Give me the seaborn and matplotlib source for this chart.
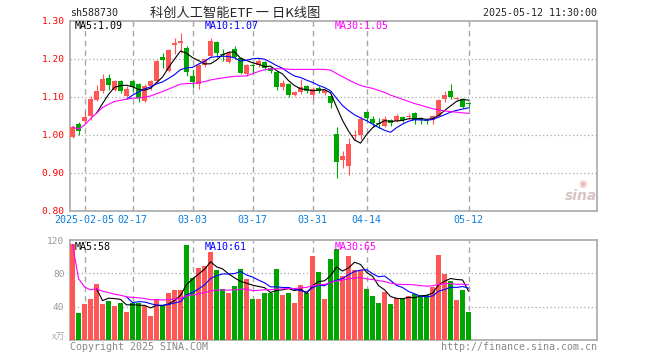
import numpy as np
import pandas as pd
import matplotlib
matplotlib.use('Agg')
import matplotlib.pyplot as plt
import seaborn as sns

# trading days shown on the chart
dates = ['2025-01-24', '2025-01-27',
         '2025-02-05', '2025-02-06', '2025-02-07', '2025-02-10', '2025-02-11', '2025-02-12',
         '2025-02-13', '2025-02-14', '2025-02-17', '2025-02-18', '2025-02-19', '2025-02-20',
         '2025-02-21', '2025-02-24', '2025-02-25', '2025-02-26', '2025-02-27', '2025-02-28',
         '2025-03-03', '2025-03-04', '2025-03-05', '2025-03-06', '2025-03-07', '2025-03-10',
         '2025-03-11', '2025-03-12', '2025-03-13', '2025-03-14', '2025-03-17', '2025-03-18',
         '2025-03-19', '2025-03-20', '2025-03-21', '2025-03-24', '2025-03-25', '2025-03-26',
         '2025-03-27', '2025-03-28', '2025-03-31',
         '2025-04-01', '2025-04-02', '2025-04-03', '2025-04-07', '2025-04-08', '2025-04-09',
         '2025-04-10', '2025-04-11', '2025-04-14', '2025-04-15', '2025-04-16', '2025-04-17',
         '2025-04-18', '2025-04-21', '2025-04-22', '2025-04-23', '2025-04-24', '2025-04-25',
         '2025-04-28', '2025-04-29', '2025-04-30',
         '2025-05-06', '2025-05-07', '2025-05-08', '2025-05-09', '2025-05-12']

open_ = [0.995, 1.030, 1.037, 1.050, 1.093, 1.117, 1.149, 1.118, 1.143, 1.103,
         1.141, 1.133, 1.089, 1.128, 1.141, 1.205, 1.168, 1.236, 1.241, 1.229,
         1.156, 1.135, 1.183, 1.209, 1.246, 1.213, 1.193, 1.227, 1.203, 1.160,
         1.183, 1.184, 1.191, 1.177, 1.166, 1.127, 1.135, 1.104, 1.112, 1.128,
         1.104, 1.125, 1.110, 1.103, 1.003, 0.935, 0.918, 0.998, 1.001, 1.060,
         1.043, 1.032, 1.025, 1.040, 1.036, 1.047, 1.048, 1.058, 1.045, 1.040,
         1.039, 1.049, 1.095, 1.117, 1.095, 1.095, 1.082]
high = [1.027, 1.033, 1.063, 1.102, 1.132, 1.161, 1.161, 1.145, 1.145, 1.130,
        1.146, 1.137, 1.133, 1.145, 1.198, 1.216, 1.225, 1.254, 1.268, 1.235,
        1.171, 1.187, 1.200, 1.254, 1.247, 1.226, 1.222, 1.233, 1.205, 1.187,
        1.187, 1.200, 1.195, 1.180, 1.168, 1.146, 1.137, 1.115, 1.147, 1.132,
        1.126, 1.130, 1.120, 1.106, 1.020, 0.957, 0.992, 1.012, 1.051, 1.062,
        1.050, 1.045, 1.050, 1.042, 1.055, 1.050, 1.058, 1.060, 1.047, 1.042,
        1.052, 1.094, 1.115, 1.133, 1.101, 1.098, 1.085]
low = [0.992, 1.001, 1.032, 1.040, 1.090, 1.110, 1.119, 1.115, 1.110, 1.100,
       1.115, 1.087, 1.086, 1.118, 1.138, 1.176, 1.165, 1.212, 1.216, 1.155,
       1.125, 1.121, 1.178, 1.206, 1.205, 1.195, 1.190, 1.200, 1.160, 1.155,
       1.163, 1.180, 1.172, 1.163, 1.118, 1.118, 1.100, 1.102, 1.108, 1.110,
       1.095, 1.110, 1.106, 1.071, 0.887, 0.913, 0.896, 0.988, 0.990, 1.036,
       1.022, 1.018, 1.020, 1.025, 1.033, 1.035, 1.042, 1.030, 1.030, 1.028,
       1.028, 1.047, 1.088, 1.095, 1.092, 1.070, 1.072]
close = [1.021, 1.010, 1.047, 1.094, 1.115, 1.147, 1.131, 1.141, 1.116, 1.120,
         1.126, 1.097, 1.130, 1.141, 1.196, 1.198, 1.223, 1.242, 1.247, 1.166,
         1.140, 1.184, 1.199, 1.248, 1.215, 1.210, 1.215, 1.206, 1.164, 1.185,
         1.181, 1.194, 1.177, 1.168, 1.127, 1.137, 1.106, 1.112, 1.126, 1.116,
         1.122, 1.115, 1.118, 1.084, 0.930, 0.944, 0.975, 1.001, 1.043, 1.044,
         1.032, 1.028, 1.042, 1.032, 1.051, 1.039, 1.050, 1.040, 1.039, 1.037,
         1.049, 1.091, 1.106, 1.100, 1.097, 1.074, 1.081]
# volume in 万
volume = [114.7, 32.7, 43.6, 49.7, 66.7, 43.6, 47.3, 41.2, 44.8, 33.9,
          44.4, 44.4, 40.4, 29.1, 49.7, 41.6, 56.2, 60.2, 60.6, 114.0,
          74.3, 86.5, 88.9, 105.9, 83.6, 61.8, 57.0, 64.6, 84.8, 72.7,
          49.7, 49.7, 57.0, 56.2, 84.8, 53.7, 57.0, 44.8, 66.3, 57.0,
          100.6, 81.6, 49.7, 97.0, 109.0, 76.4, 100.6, 83.6, 83.6, 61.8,
          52.5, 44.8, 58.2, 43.6, 50.5, 50.5, 53.0, 55.8, 54.5, 54.5,
          63.2, 101.8, 78.8, 70.7, 48.5, 60.6, 34.1]

tick_dates = ['2025-02-05', '2025-02-17', '2025-03-03', '2025-03-17',
              '2025-03-31', '2025-04-14', '2025-05-12']
tick_labels = ['2025-02-05', '02-17', '03-03', '03-17', '03-31', '04-14', '05-12']
price_ticks = [0.80, 0.90, 1.00, 1.10, 1.20, 1.30]
vol_ticks = [40, 80, 120]

title = '科创人工智能ETF 一 日K线图'
code = 'sh588730'
timestamp = '2025-05-12 11:30:00'
price_ma_labels = ['MA5:1.09', 'MA10:1.07', 'MA30:1.05']
vol_ma_labels = ['MA5:58', 'MA10:61', 'MA30:65']

RED = '#ff5656'
GREEN = '#00a600'
GRID = '#a8a8a8'
MA_COLORS = ['black', '#0000ff', '#ff00ff']

df = pd.DataFrame({'date': dates, 'open': open_, 'high': high, 'low': low,
                   'close': close, 'volume': volume})
df['i'] = np.arange(len(df))
up = df['close'] >= df['open']
colors = np.where(up, RED, GREEN)

df['ma5'] = df['close'].rolling(5).mean()
df['ma10'] = df['close'].rolling(10).mean()
df['ma30'] = df['close'].rolling(30, min_periods=1).mean()
df['vma5'] = df['volume'].rolling(5).mean()
df['vma10'] = df['volume'].rolling(10).mean()
df['vma30'] = df['volume'].rolling(30, min_periods=1).mean()

sns.set_style('white')
plt.rcParams['font.family'] = ['DejaVu Sans Mono', 'Noto Sans CJK SC']

W, H = 660, 360
fig = plt.figure(figsize=(W / 100, H / 100), dpi=100)


def box(l, t, r, b):
    return [l / W, 1 - b / H, (r - l) / W, (b - t) / H]


def ftext(x, y, s, **kw):
    fig.text(x / W, 1 - y / H, s, **kw)


ax = fig.add_axes(box(70, 21, 597, 211))
axv = fig.add_axes(box(70, 240, 597, 340))

tick_idx = [dates.index(d) for d in tick_dates]

# candles
body_lo = np.minimum(df['open'], df['close'])
body_h = np.maximum((df['close'] - df['open']).abs(), 0.0028)
ax.vlines(df['i'], df['low'], df['high'], colors=colors, lw=0.8, zorder=3)
ax.bar(df['i'], body_h, bottom=body_lo, width=0.8, color=colors, linewidth=0, zorder=3)

for col, c in zip(['ma5', 'ma10', 'ma30'], MA_COLORS):
    sns.lineplot(data=df, x='i', y=col, ax=ax, color=c, lw=0.8, zorder=4)

# volume
axv.bar(df['i'], df['volume'], width=0.8, color=colors, linewidth=0, zorder=3)
for col, c in zip(['vma5', 'vma10', 'vma30'], MA_COLORS):
    sns.lineplot(data=df, x='i', y=col, ax=axv, color=c, lw=0.8, zorder=4)

for a in (ax, axv):
    a.set_xlim(-0.42, 87.4)
    a.set_xlabel('')
    a.set_ylabel('')
    for s in a.spines.values():
        s.set_color(GRID)
        s.set_linewidth(1.2)
    for t in tick_idx:
        a.axvline(t, color=GRID, lw=1, ls=(0, (4, 3)), zorder=1)

ax.set_ylim(0.80, 1.30)
for p in price_ticks[1:-1]:
    ax.axhline(p, color=GRID, lw=0.9, ls=(0, (1, 2)), zorder=1)
ax.set_yticks(price_ticks)
ax.set_yticklabels(['%.2f' % p for p in price_ticks])
ax.set_xticks(tick_idx)
ax.set_xticklabels(tick_labels)
ax.tick_params(axis='y', length=0, pad=4, labelsize=6.8, labelcolor='red')
ax.tick_params(axis='x', length=0, pad=3, labelsize=7.2, labelcolor='#0a7ee0')

axv.set_ylim(0, 120)
for v in vol_ticks[:-1]:
    axv.axhline(v, color=GRID, lw=0.9, ls=(0, (1, 2)), zorder=1)
axv.set_yticks(vol_ticks)
axv.set_xticks([])
axv.tick_params(axis='y', length=0, pad=4, labelsize=6.8, labelcolor='#999999')

# legends of moving averages
for lbl, c, x in zip(price_ma_labels, MA_COLORS, [75, 205, 335]):
    ftext(x, 26, lbl, color=c, fontsize=7.2, va='center')
for lbl, c, x in zip(vol_ma_labels, MA_COLORS, [75, 205, 335]):
    ftext(x, 246.5, lbl, color=c, fontsize=7.2, va='center')

ftext(70, 13, code, fontsize=7.2, va='center')
ftext(150, 13, title, fontsize=9.5, va='center', family=['Noto Sans CJK SC', 'DejaVu Sans'])
ftext(597, 13, timestamp, fontsize=7.2, va='center', ha='right')
ftext(65, 337, 'x万', fontsize=6.5, va='center', ha='right', color='#aaaaaa',
      family=['Noto Sans CJK SC', 'DejaVu Sans'])
ftext(70, 346.5, 'Copyright 2025 SINA.COM', fontsize=7.2, va='center', color='#888888')
ftext(597, 346.5, 'http://finance.sina.com.cn', fontsize=7.2, va='center', ha='right',
      color='#888888')
ftext(597, 196, 'sina', fontsize=10, va='center', ha='right', color='#d8c4c4',
      family='DejaVu Sans', style='italic', weight='bold')
ftext(583, 184, '◉', fontsize=7, va='center', ha='center', color='#f0b4b4',
      family='DejaVu Sans')

fig.savefig('out.png', dpi=100)
